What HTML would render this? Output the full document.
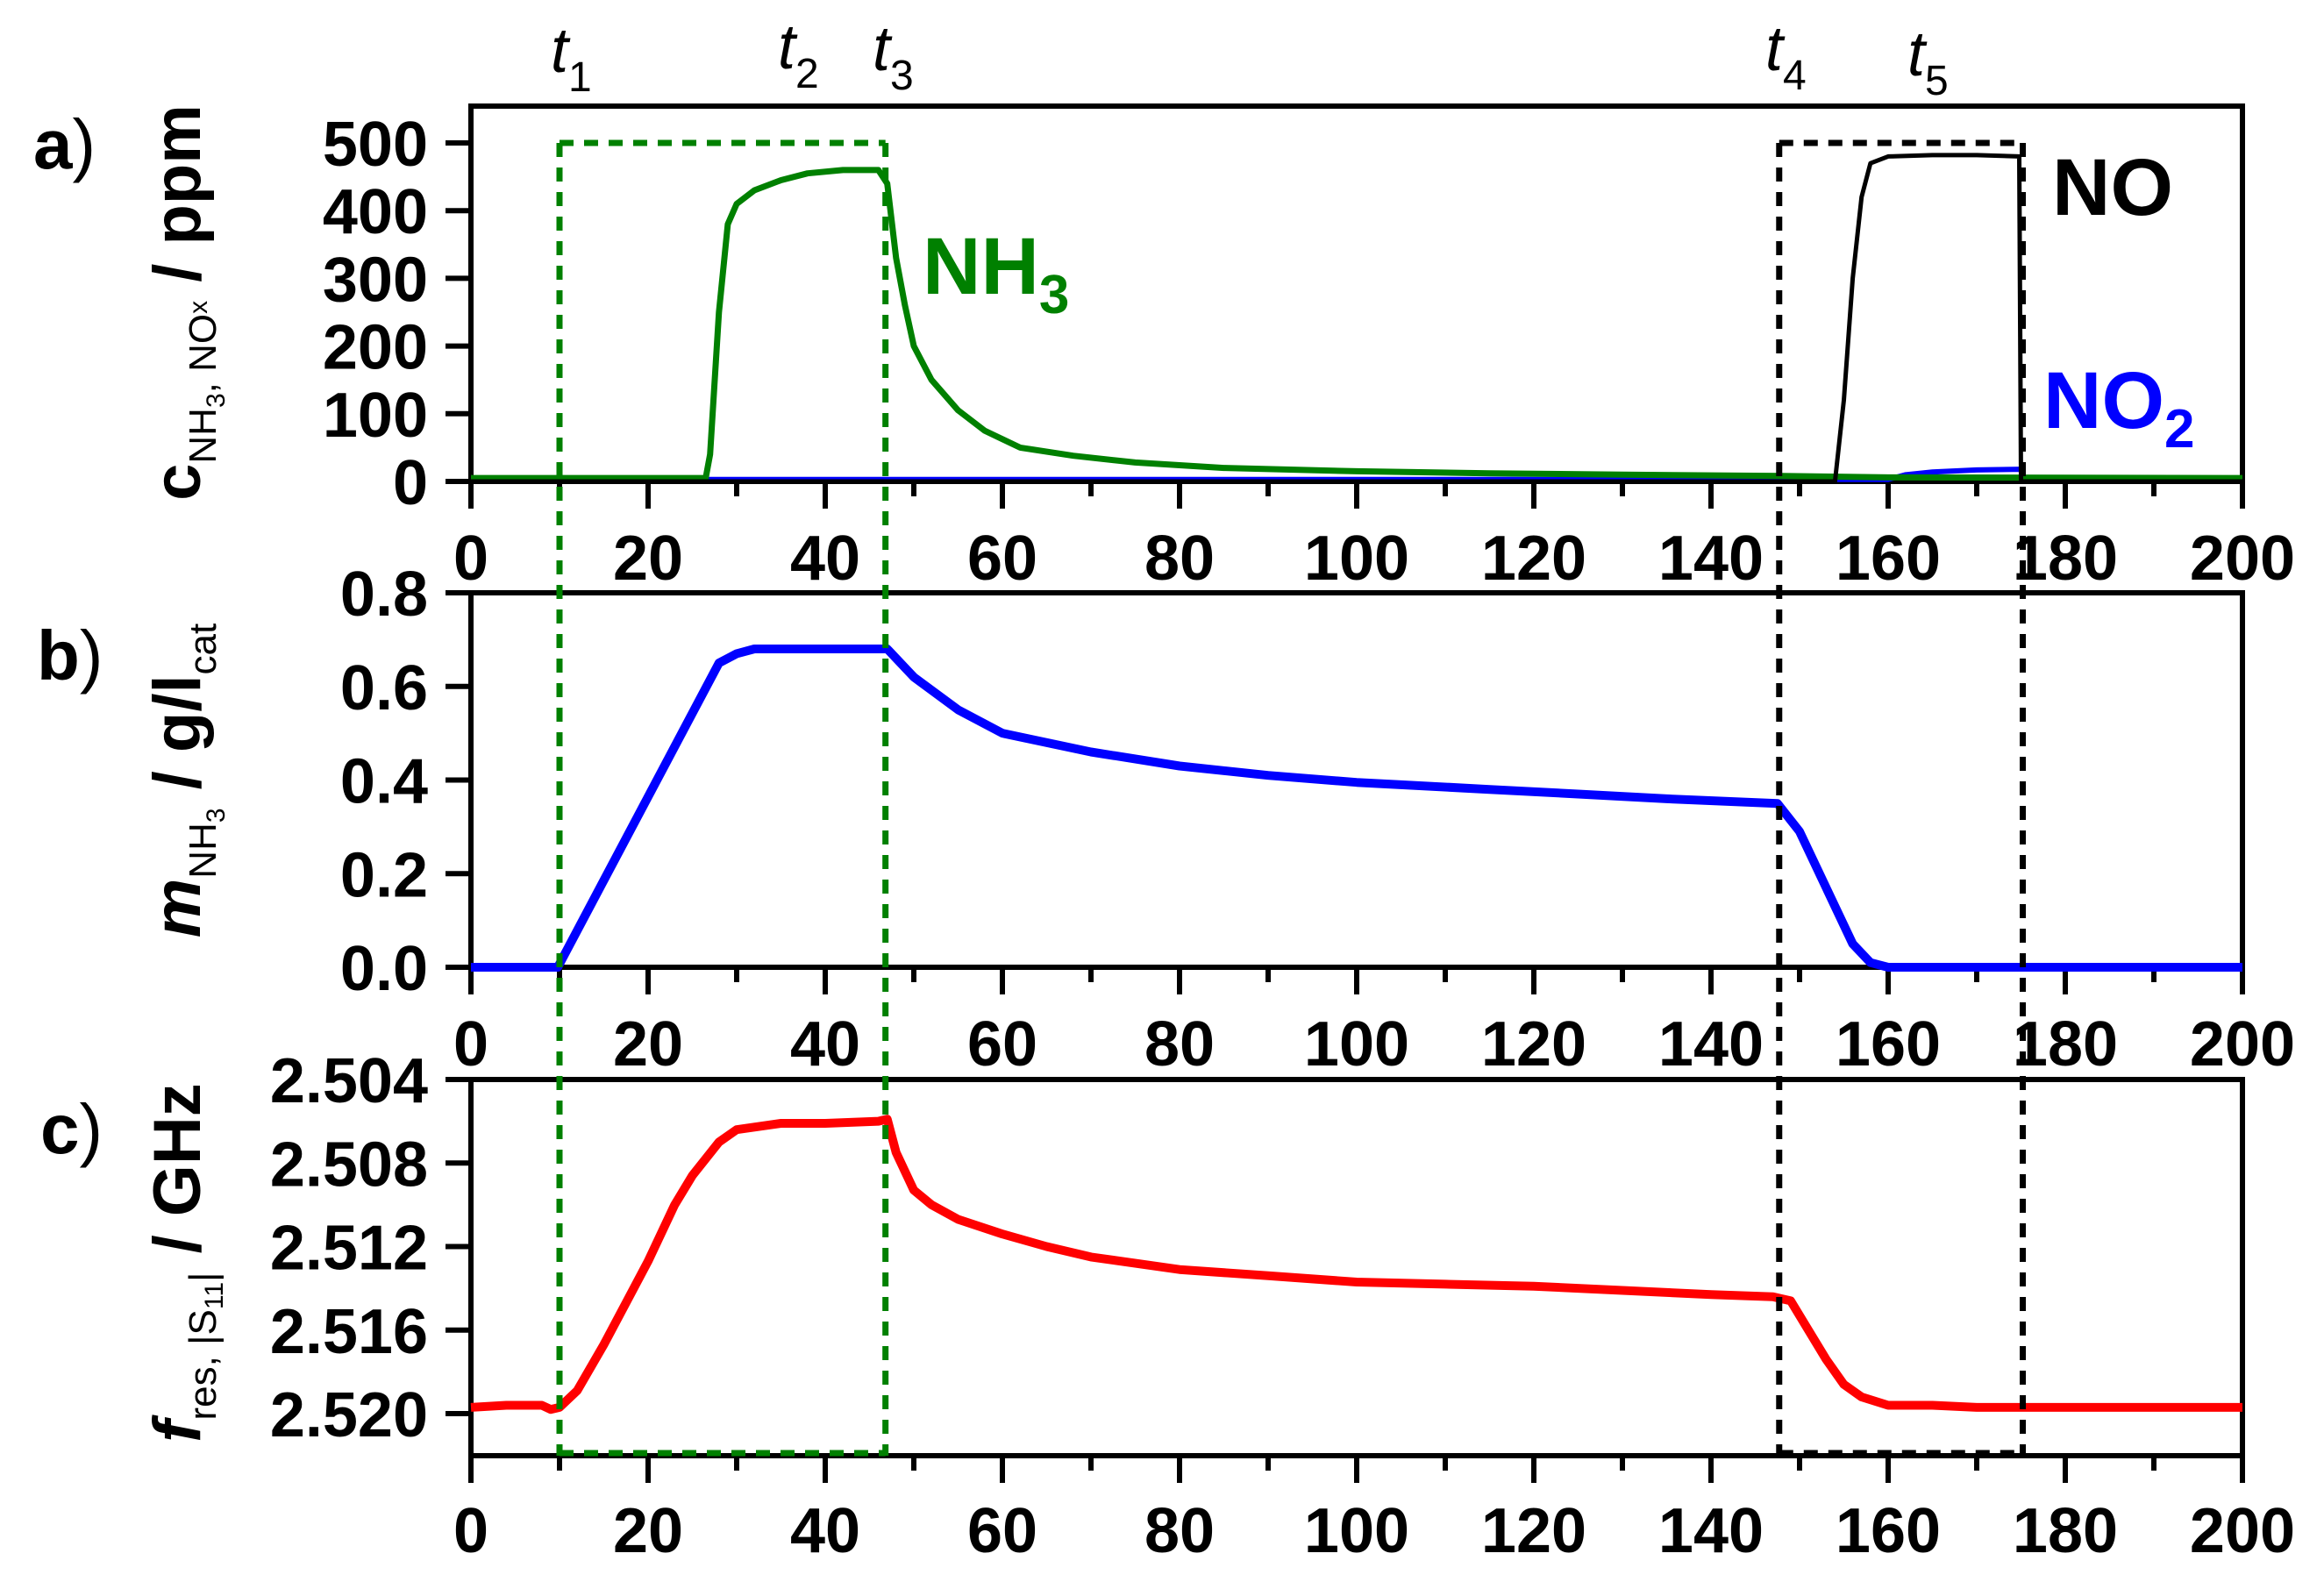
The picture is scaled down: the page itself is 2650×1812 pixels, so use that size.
<!DOCTYPE html>
<html><head><meta charset="utf-8"><style>
html,body{margin:0;padding:0;background:#fff}
svg{display:block}
text{font-family:"Liberation Sans",sans-serif}
</style></head><body>
<svg id="chart" xmlns="http://www.w3.org/2000/svg" width="2650" height="1812" viewBox="0 0 2650 1812">
<g id="frames"></g>
<g id="marks"></g>
<g id="annot"></g>
</svg>
<script>
// ---- data ----
const xTicks = [0,20,40,60,80,100,120,140,160,180,200];
const aTicks = [0,100,200,300,400,500];
const bTicks = [0.0,0.2,0.4,0.6,0.8];
const bTickLabels = ["0.0","0.2","0.4","0.6","0.8"];
const cTicks = [2.504,2.508,2.512,2.516,2.520];
const cTickLabels = ["2.504","2.508","2.512","2.516","2.520"];

const nh3T = [0,26.5,27,28,29,30,32,35,38,42,46,47,48,49,50,52,55,58,62,68,75,85,100,115,130,148,160,200];
const nh3V = [5,5,40,250,380,410,430,445,455,460,460,440,330,260,200,150,105,75,50,38,28,20,15,12,10,8,6,5];
const noT = [0,154,155,156,157,158,160,165,170,174.8,175,200];
const noV = [0,0,120,300,420,470,480,482,482,480,0,0];
const no2T = [0,160,162,165,170,175,175.3,200];
const no2V = [3,3,10,14,17,18,3,3];
const mT = [0,9.8,28,30,32,40,47,48,50,55,60,70,80,90,100,115,125,135,147.5,150,153,156,158,160,200];
const mV = [0,0,0.65,0.67,0.68,0.68,0.68,0.66,0.62,0.55,0.5,0.46,0.43,0.41,0.395,0.38,0.37,0.36,0.35,0.29,0.17,0.05,0.01,0,0];
const fT = [0,4,8,9,10,12,15,18,20,23,25,28,30,35,40,46,47,48,50,52,55,60,65,70,80,90,100,110,120,130,140,147,149,151,153,155,157,160,165,170,180,190,200];
const fV = [2.5197,2.5196,2.5196,2.5198,2.5197,2.5189,2.5167,2.5143,2.5127,2.5100,2.5086,2.5070,2.5064,2.5061,2.5061,2.5060,2.5059,2.5075,2.5093,2.5100,2.5107,2.5114,2.5120,2.5125,2.5131,2.5134,2.5137,2.5138,2.5139,2.5141,2.5143,2.5144,2.5146,2.5160,2.5174,2.5186,2.5192,2.5196,2.5196,2.5197,2.5197,2.5197,2.5197];

// ---- layout ----
const X0=537, X1=2557;
const sx = v => X0 + (v/200)*(X1-X0);
const A={top:121,bot:549,y:v=>549-v*(549-163)/500};
const B={top:676,bot:1103,y:v=>1103-v*(1103-676)/0.8};
const C={top:1231,bot:1660,y:v=>1231+(v-2.504)*(1612-1231)/0.016};
const NS="http://www.w3.org/2000/svg";
const frames=document.getElementById('frames');
const marks=document.getElementById('marks');
const annot=document.getElementById('annot');
function mk(tag,attrs,parent){const e=document.createElementNS(NS,tag);for(const k in attrs)e.setAttribute(k,attrs[k]);parent.appendChild(e);return e;}

function panel(P,name,yt,ytl,labY){
  const r=mk('rect',{x:X0,y:P.top,width:X1-X0,height:P.bot-P.top,fill:'none',stroke:'#000','stroke-width':6},frames);
  
  
  for(let v=0;v<=200;v+=10){
    const major=v%20===0;
    const t=mk('line',{x1:sx(v),x2:sx(v),y1:P.bot,y2:P.bot+(major?31:17),stroke:'#000','stroke-width':6},frames);
    
    
  }
  xTicks.forEach(v=>{
    const t=mk('text',{x:sx(v),y:labY,'text-anchor':'middle','font-size':72,'font-weight':'bold'},frames);
    t.textContent=String(v);
    
    
  });
  yt.forEach((v,i)=>{
    const t=mk('line',{x1:X0-29,x2:X0,y1:P.y(v),y2:P.y(v),stroke:'#000','stroke-width':6},frames);
    
    
    const l=mk('text',{x:488,y:P.y(v)+26,'text-anchor':'end','font-size':72,'font-weight':'bold'},frames);
    l.textContent=ytl[i];
    
    
  });
}
panel(A,'panel-a',aTicks,aTicks.map(String),661);
panel(B,'panel-b',bTicks,bTickLabels,1215);
panel(C,'panel-c',cTicks,cTickLabels,1770);

function line(T,V,P,color,w,name){
  const d=T.map((t,i)=>(i?'L':'M')+sx(t).toFixed(1)+','+P.y(V[i]).toFixed(1)).join(' ');
  const p=mk('path',{d:d,fill:'none',stroke:color,'stroke-width':w,'stroke-linejoin':'round'},marks);
  
  
}
line(no2T,no2V,A,'#0000ff',6,'no2-line');
line(nh3T,nh3V,A,'#008000',7,'nh3-line');
line(noT,noV,A,'#000',5,'no-line');
line(mT,mV,B,'#0000ff',10,'nh3-mass-line');
line(fT,fV,C,'#ff0000',10,'resonance-frequency-line');

// dashed guides
function dash(x1,y1,x2,y2,c,name){
  const l=mk('line',{x1:x1,y1:y1,x2:x2,y2:y2,stroke:c,'stroke-width':7,'stroke-dasharray':'16 12'},annot);
  
  
}
const G='#008000';
dash(sx(10),A.y(500),sx(10),C.bot,G,'t1-guide');
dash(sx(46.8),A.y(500),sx(46.8),C.bot,G,'t3-guide');
dash(sx(10),A.y(500),sx(46.8),A.y(500),G,'nh3-dose-top');
dash(sx(10),C.bot-3,sx(46.8),C.bot-3,G,'nh3-dose-bottom');
dash(sx(147.7),A.y(500),sx(147.7),C.bot,'#000','t4-guide');
dash(sx(175.2),A.y(500),sx(175.2),C.bot,'#000','t5-guide');
dash(sx(147.7),A.y(500),sx(175.2),A.y(500),'#000','no-dose-top');
dash(sx(147.7),C.bot-3,sx(175.2),C.bot-3,'#000','no-dose-bottom');
</script>
<svg style="position:absolute;left:0;top:0" width="2650" height="1812">
<g font-family="Liberation Sans, sans-serif">
<text x="628" y="82" font-size="72" font-style="italic">t<tspan font-size="48" font-style="normal" dy="22">1</tspan></text>
<text x="887" y="78" font-size="72" font-style="italic">t<tspan font-size="48" font-style="normal" dy="22">2</tspan></text>
<text x="995" y="80" font-size="72" font-style="italic">t<tspan font-size="48" font-style="normal" dy="22">3</tspan></text>
<text x="2013" y="80" font-size="72" font-style="italic">t<tspan font-size="48" font-style="normal" dy="22">4</tspan></text>
<text x="2175" y="86" font-size="72" font-style="italic">t<tspan font-size="48" font-style="normal" dy="22">5</tspan></text>
<text x="1052" y="335" font-size="92" font-weight="bold" fill="#008000">NH<tspan font-size="62" dy="22">3</tspan></text>
<text x="2340" y="245" font-size="92" font-weight="bold" fill="#000">NO</text>
<text x="2330" y="488" font-size="92" font-weight="bold" fill="#0000ff">NO<tspan font-size="62" dy="22">2</tspan></text>
<text x="38" y="192" font-size="80" font-weight="bold">a<tspan font-weight="normal">)</tspan></text>
<text x="42" y="775" font-size="80" font-weight="bold">b<tspan font-weight="normal">)</tspan></text>
<text x="46" y="1315" font-size="80" font-weight="bold">c<tspan font-weight="normal">)</tspan></text>
<text transform="translate(228,345) rotate(-90)" text-anchor="middle" font-size="76" font-weight="bold">c<tspan font-size="44" font-weight="normal" dy="18">NH</tspan><tspan font-size="30" font-weight="normal" dy="10">3</tspan><tspan font-size="44" font-weight="normal" dy="-10">, NO</tspan><tspan font-size="30" font-weight="normal" dy="-10">x</tspan><tspan dy="-8"> / ppm</tspan></text>
<text transform="translate(228,890) rotate(-90)" text-anchor="middle" font-size="76" font-weight="bold"><tspan font-style="italic">m</tspan><tspan font-size="44" font-weight="normal" dy="18">NH</tspan><tspan font-size="30" font-weight="normal" dy="10">3</tspan><tspan dy="-28"> / g/l</tspan><tspan font-size="44" font-weight="normal" dy="18">cat</tspan></text>
<text transform="translate(228,1440) rotate(-90)" text-anchor="middle" font-size="76" font-weight="bold"><tspan font-style="italic">f</tspan><tspan font-size="44" font-weight="normal" dy="18">res, |S</tspan><tspan font-size="30" font-weight="normal" dy="8">11</tspan><tspan font-size="44" font-weight="normal" dy="-8">|</tspan><tspan dy="-18"> / GHz</tspan></text>
</g>
</svg>
</body></html>
